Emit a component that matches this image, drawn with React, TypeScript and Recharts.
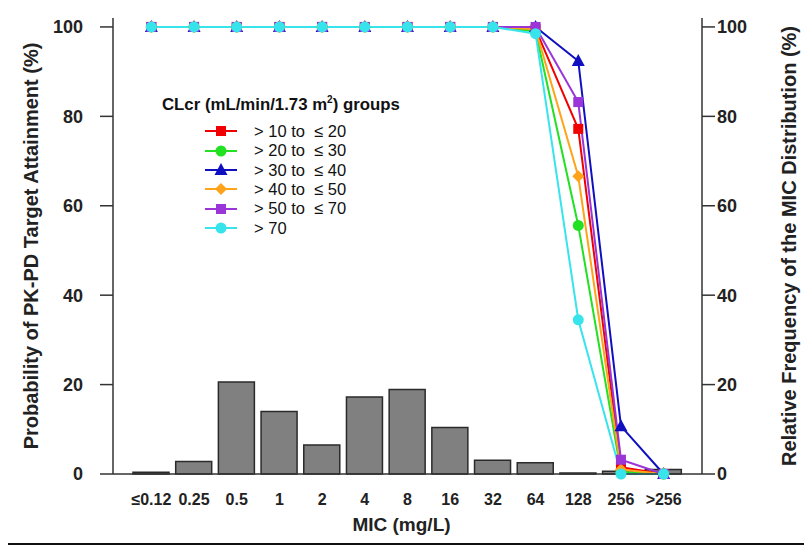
import React from 'react';
import {
  ComposedChart,
  Bar,
  Line,
  XAxis,
  YAxis,
  Legend,
} from 'recharts';

const micLabels = ['≤0.12', '0.25', '0.5', '1', '2', '4', '8', '16', '32', '64', '128', '256', '>256'];

// relative frequency of the MIC distribution (%)
const micFrequency = [0.4, 2.8, 20.6, 14.0, 6.5, 17.2, 18.9, 10.4, 3.1, 2.5, 0.2, 0.6, 1.0];

// probability of target attainment (%) per CLcr group
const pta10to20 = [100, 100, 100, 100, 100, 100, 100, 100, 100, 99.5, 77.2, 1.5, 0];
const pta20to30 = [100, 100, 100, 100, 100, 100, 100, 100, 100, 99, 55.6, 0.5, 0];
const pta30to40 = [100, 100, 100, 100, 100, 100, 100, 100, 100, 100, 92.4, 10.7, 0];
const pta40to50 = [100, 100, 100, 100, 100, 100, 100, 100, 100, 99.5, 66.6, 1.0, 0];
const pta50to70 = [100, 100, 100, 100, 100, 100, 100, 100, 100, 100, 83.2, 3.2, 0];
const ptaOver70 = [100, 100, 100, 100, 100, 100, 100, 100, 100, 98.5, 34.5, 0, 0];

const yTicks = [0, 20, 40, 60, 80, 100];

type Shape = 'square' | 'circle' | 'triangle' | 'diamond';

const series: { key: string; label: string; color: string; shape: Shape; values: number[] }[] = [
  { key: 'g1', label: '> 10 to  ≤ 20', color: '#f00000', shape: 'square', values: pta10to20 },
  { key: 'g2', label: '> 20 to  ≤ 30', color: '#22e022', shape: 'circle', values: pta20to30 },
  { key: 'g3', label: '> 30 to  ≤ 40', color: '#1010c0', shape: 'triangle', values: pta30to40 },
  { key: 'g4', label: '> 40 to  ≤ 50', color: '#ffa31a', shape: 'diamond', values: pta40to50 },
  { key: 'g5', label: '> 50 to  ≤ 70', color: '#9a35d8', shape: 'square', values: pta50to70 },
  { key: 'g6', label: '> 70', color: '#38e4ec', shape: 'circle', values: ptaOver70 },
];

const data = micLabels.map((mic, i) => {
  const row: Record<string, string | number> = { mic, freq: micFrequency[i] };
  series.forEach((s) => {
    row[s.key] = s.values[i];
  });
  return row;
});

const font = '"Liberation Sans", Arial, sans-serif';

function Marker({ cx, cy, shape, color }: { cx: number; cy: number; shape: Shape; color: string }) {
  if (shape === 'square') return <rect x={cx - 5} y={cy - 5} width={10} height={10} fill={color} />;
  if (shape === 'circle') return <circle cx={cx} cy={cy} r={5.5} fill={color} />;
  if (shape === 'triangle')
    return <polygon points={`${cx},${cy - 7} ${cx + 6.5},${cy + 5} ${cx - 6.5},${cy + 5}`} fill={color} />;
  return <polygon points={`${cx},${cy - 6} ${cx + 6},${cy} ${cx},${cy + 6} ${cx - 6},${cy}`} fill={color} />;
}

const dotFor = (shape: Shape, color: string) => (props: any) => (
  <Marker key={`${color}-${props.index}`} cx={props.cx} cy={props.cy} shape={shape} color={color} />
);

function LegendBox() {
  return (
    <div style={{ fontFamily: font, color: '#111' }}>
      <div style={{ fontSize: 16.8, fontWeight: 'bold', marginBottom: 7, whiteSpace: 'nowrap' }}>
        CLcr (mL/min/1.73 m<sup style={{ fontSize: 10 }}>2</sup>) groups
      </div>
      {series.map((s) => (
        <div key={s.key} style={{ display: 'flex', alignItems: 'center', height: 19.4, marginLeft: 42 }}>
          <svg width={34} height={16}>
            <line x1={1} x2={33} y1={8} y2={8} stroke={s.color} strokeWidth={2} />
            <Marker cx={17} cy={8} shape={s.shape} color={s.color} />
          </svg>
          <span style={{ fontSize: 16.5, marginLeft: 16, whiteSpace: 'pre' }}>{s.label}</span>
        </div>
      ))}
    </div>
  );
}

export default function App() {
  return (
    <div style={{ margin: -8, position: 'relative', width: 812, height: 555, background: '#fff' }}>
      <ComposedChart
        width={812}
        height={555}
        data={data}
        margin={{ top: 18, right: 10, bottom: 21, left: 13 }}
        style={{ fontFamily: font }}
      >
        <XAxis
          dataKey="mic"
          xAxisId="bottom"
          height={60}
          padding={{ left: 17, right: 17 }}
          tickLine={false}
          axisLine={{ stroke: '#333', strokeWidth: 1.5 }}
          tickMargin={14}
          tick={{ fill: '#222', fontSize: 16, fontWeight: 'bold' }}
          interval={0}
          label={{ value: 'MIC (mg/L)', position: 'insideBottom', offset: 3, dx: -6, fill: '#222', fontSize: 19, fontWeight: 'bold' }}
        />
        <XAxis
          dataKey="mic"
          xAxisId="top"
          orientation="top"
          height={0}
          tick={false}
          tickLine={false}
          axisLine={{ stroke: '#333', strokeWidth: 1.5 }}
        />
        <YAxis
          yAxisId="left"
          width={100}
          domain={[0, 102]}
          ticks={yTicks}
          tickSize={13}
          tickMargin={17}
          axisLine={{ stroke: '#333', strokeWidth: 1.5 }}
          tickLine={{ stroke: '#333', strokeWidth: 1.5 }}
          tick={{ fill: '#222', fontSize: 18, fontWeight: 'bold' }}
          label={{
            value: 'Probability of PK-PD Target Attainment (%)',
            angle: -90,
            position: 'insideLeft',
            offset: 18,
            style: { textAnchor: 'middle', fill: '#222', fontSize: 20, fontWeight: 'bold' },
          }}
        />
        <YAxis
          yAxisId="right"
          orientation="right"
          width={100}
          domain={[0, 102]}
          ticks={yTicks}
          tickSize={13}
          tickMargin={2}
          axisLine={{ stroke: '#333', strokeWidth: 1.5 }}
          tickLine={{ stroke: '#333', strokeWidth: 1.5 }}
          tick={{ fill: '#222', fontSize: 18, fontWeight: 'bold' }}
          label={{
            value: 'Relative Frequency of the MIC Distribution (%)',
            angle: -90,
            position: 'insideRight',
            offset: 13,
            style: { textAnchor: 'middle', fill: '#222', fontSize: 20, fontWeight: 'bold' },
          }}
        />
        <Bar
          dataKey="freq"
          xAxisId="bottom"
          yAxisId="right"
          barSize={36}
          fill="#808080"
          stroke="#2a2a2a"
          strokeWidth={1.5}
          isAnimationActive={false}
        />
        {series.map((s) => (
          <Line
            key={s.key}
            dataKey={s.key}
            xAxisId="bottom"
            yAxisId="left"
            type="linear"
            stroke={s.color}
            strokeWidth={2}
            dot={dotFor(s.shape, s.color)}
            activeDot={false}
            isAnimationActive={false}
          />
        ))}
        <Legend
          layout="horizontal"
          verticalAlign="middle"
          align="center"
          content={() => <LegendBox />}
          wrapperStyle={{ position: 'absolute', left: 162, top: 94, width: 300 }}
        />
      </ComposedChart>
      <svg
        width={812}
        height={555}
        style={{ position: 'absolute', left: 0, top: 0, pointerEvents: 'none', zIndex: 10 }}
      >
        <polyline points="7,0 7,544 808,544 808,0" fill="none" stroke="#111" strokeWidth={2} />
      </svg>
    </div>
  );
}
